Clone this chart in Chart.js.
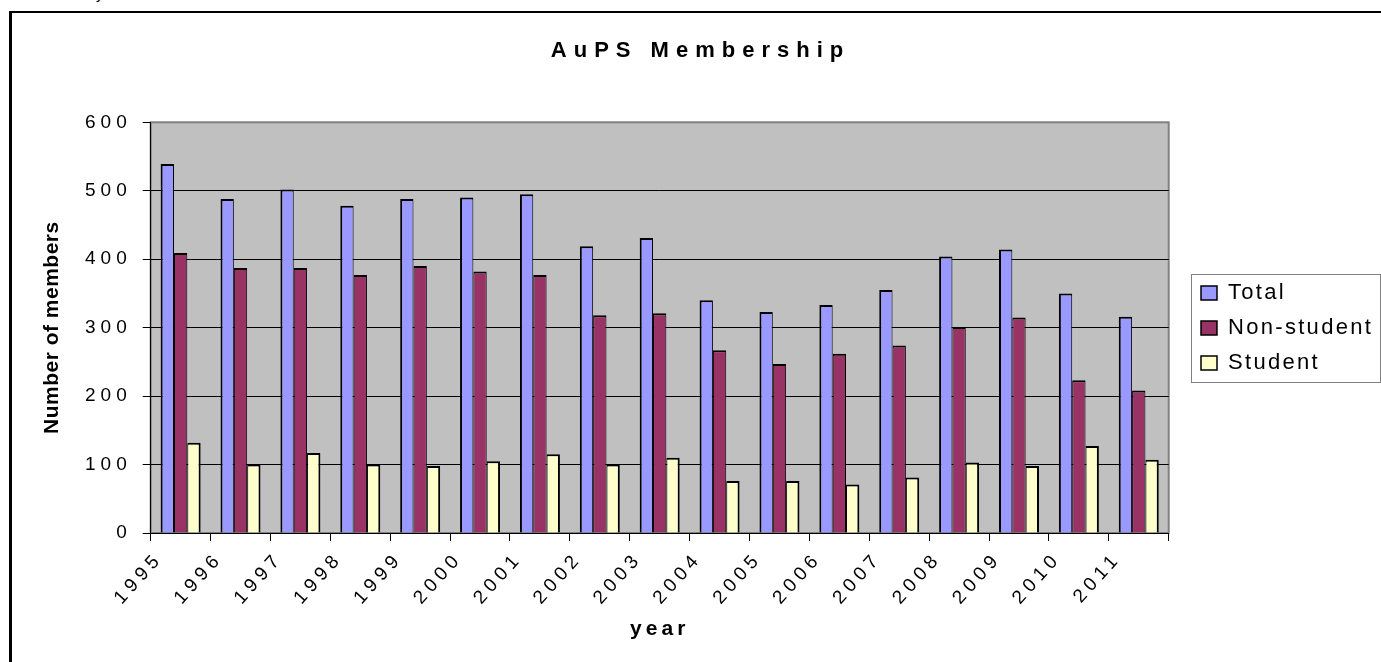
<!DOCTYPE html>
<html>
<head>
<meta charset="utf-8">
<title>AuPS Membership</title>
<script src="https://cdn.jsdelivr.net/npm/chart.js@4.4.1/dist/chart.umd.min.js"></script>
<style>
  html, body { margin: 0; padding: 0; background: #fff; overflow: hidden; }
  body { width: 1381px; height: 662px; position: relative; }
  .frame { position: absolute; left: 9px; top: 11px; width: 1400px; height: 700px; border-left: 3px solid #000; border-top: 2px solid #000; }
  .cut { position: absolute; left: 96px; top: -14px; font: 15px/15px "Liberation Sans", Arial, sans-serif; }
  canvas { position: absolute; left: 0; top: 0; }
</style>
</head>
<body>
<div class="cut">y</div>
<div class="frame"></div>
<canvas id="chart" width="1401" height="662"></canvas>
<script>
// Values
const years = ['1995', '1996', '1997', '1998', '1999', '2000', '2001', '2002', '2003',
  '2004', '2005', '2006', '2007', '2008', '2009', '2010', '2011'];
const total = [539, 488, 502, 478, 488, 490, 495, 419, 431, 340, 323, 333, 355, 404, 414, 350, 316];
const nonStudent = [409, 387, 387, 377, 390, 382, 377, 318, 321, 267, 247, 262, 274, 301, 315, 223, 208];
const student = [132, 100, 117, 100, 98, 105, 115, 100, 110, 76, 76, 71, 81, 103, 98, 127, 107];
const yMin = 0;
const yMax = 600;
const yStep = 100;

Chart.defaults.font.family = '"Liberation Sans", Arial, sans-serif';
Chart.defaults.color = '#000';

// the old chart renderer spaced its glyphs out, so wrap draw calls with a letter spacing
function spaced(obj, name, px) {
  if (!obj || obj['_spaced_' + name]) return;
  const fn = obj[name];
  obj[name] = function (...args) {
    const ctx = this.ctx;
    ctx.save();
    ctx.letterSpacing = px;
    const r = fn.apply(this, args);
    ctx.restore();
    return r;
  };
  obj['_spaced_' + name] = true;
}

// legend sits in a bordered box right of the plot
const legendBox = { left: 1191, top: 274, right: 1380, bottom: 382 };

const framePlugin = {
  id: 'frame',
  afterLayout(chart) {
    const lg = chart.legend;
    // a bit taller than the drawn box so all items stay in one column
    lg.left = legendBox.left - 3;
    lg.right = legendBox.right;
    lg.top = legendBox.top - 10;
    lg.bottom = legendBox.bottom + 10;
    lg.width = lg.right - lg.left;
    lg.height = lg.bottom - lg.top;

    spaced(chart.titleBlock, 'draw', '7px');
    spaced(lg, 'draw', '2.3px');
    spaced(chart.scales.x, 'drawLabels', '5px');
    spaced(chart.scales.x, 'drawTitle', '4px');
    spaced(chart.scales.y, 'drawLabels', '5px');
    spaced(chart.scales.y, 'drawTitle', '0.5px');
  },
  beforeDraw(chart) {
    const { ctx, chartArea: a } = chart;
    ctx.save();
    ctx.fillStyle = '#C0C0C0';
    ctx.fillRect(a.left, a.top, a.width, a.height);
    ctx.strokeStyle = '#808080';
    ctx.lineWidth = 2;
    ctx.strokeRect(a.left, a.top, a.width, a.height);
    ctx.restore();
  },
  afterDraw(chart) {
    const ctx = chart.ctx;
    ctx.save();
    ctx.strokeStyle = '#808080';
    ctx.lineWidth = 1;
    ctx.strokeRect(legendBox.left + 0.5, legendBox.top + 0.5,
      legendBox.right - legendBox.left, legendBox.bottom - legendBox.top);
    ctx.restore();
  }
};

const ctx = document.getElementById('chart').getContext('2d');
new Chart(ctx, {
  type: 'bar',
  data: {
    labels: years,
    datasets: [
      {
        label: 'Total',
        data: total,
        backgroundColor: '#9999FF',
        borderColor: '#000',
        borderWidth: { top: 2, left: 2, right: 1, bottom: 0 },
      },
      {
        label: 'Non-student',
        data: nonStudent,
        backgroundColor: '#993366',
        borderColor: '#000',
        borderWidth: { top: 2, left: 1, right: 1, bottom: 0 },
      },
      {
        label: 'Student',
        data: student,
        backgroundColor: '#FFFFCC',
        borderColor: '#000',
        borderWidth: { top: 2, left: 1, right: 2, bottom: 0 },
      },
    ],
  },
  options: {
    responsive: false,
    animation: false,
    events: [],
    devicePixelRatio: 1,
    datasets: {
      bar: {
        categoryPercentage: 0.668,
        barPercentage: 1,
      },
    },
    layout: {
      padding: 0,
    },
    plugins: {
      title: {
        display: true,
        text: 'AuPS Membership',
        color: '#000',
        font: { size: 22, weight: 'bold' },
        padding: { top: 37.6, bottom: 58.3 },
      },
      legend: {
        position: 'chartArea',
        align: 'center',
        labels: {
          color: '#000',
          font: { size: 22 },
          boxWidth: 16,
          boxHeight: 14,
          padding: 13,
          generateLabels: (chart) =>
            Chart.defaults.plugins.legend.labels.generateLabels(chart)
              .map(item => ({ ...item, lineWidth: 1.5, strokeStyle: '#000' })),
        },
      },
      tooltip: { enabled: false },
    },
    scales: {
      x: {
        offset: true,
        grid: {
          offset: true,
          drawOnChartArea: false,
          color: '#000',
          tickLength: 8,
        },
        border: { color: '#000', width: 1 },
        ticks: {
          autoSkip: false,
          minRotation: 48,
          maxRotation: 48,
          labelOffset: -21,
          padding: 6.5,
          color: '#000',
          font: { size: 19 },
        },
        title: {
          display: true,
          text: 'year',
          color: '#000',
          font: { size: 21, weight: 'bold' },
          padding: { bottom: 20 },
        },
        afterFit: (scale) => { scale.height = 129; },
      },
      y: {
        min: yMin,
        max: yMax,
        ticks: {
          stepSize: yStep,
          padding: 11,
          color: '#000',
          font: { size: 19 },
        },
        grid: {
          color: (c) => (c.index === c.scale.ticks.length - 1 ? '#808080' : '#000'),
          tickColor: '#000',
          tickLength: 8,
          lineWidth: 1,
        },
        border: { color: '#000', width: 1 },
        title: {
          display: true,
          text: 'Number of members',
          color: '#000',
          font: { size: 21, weight: 'bold' },
          padding: { top: 40 },
        },
        afterFit: (scale) => { scale.width = 150.7; },
      },
      // empty axis that only reserves the room the legend needs on the right
      yRight: {
        type: 'linear',
        position: 'right',
        grid: { display: false },
        border: { display: false },
        ticks: { display: false },
        afterFit: (scale) => { scale.width = 1401 - 1168.7; },
      },
    },
  },
  plugins: [framePlugin],
});
</script>
</body>
</html>
